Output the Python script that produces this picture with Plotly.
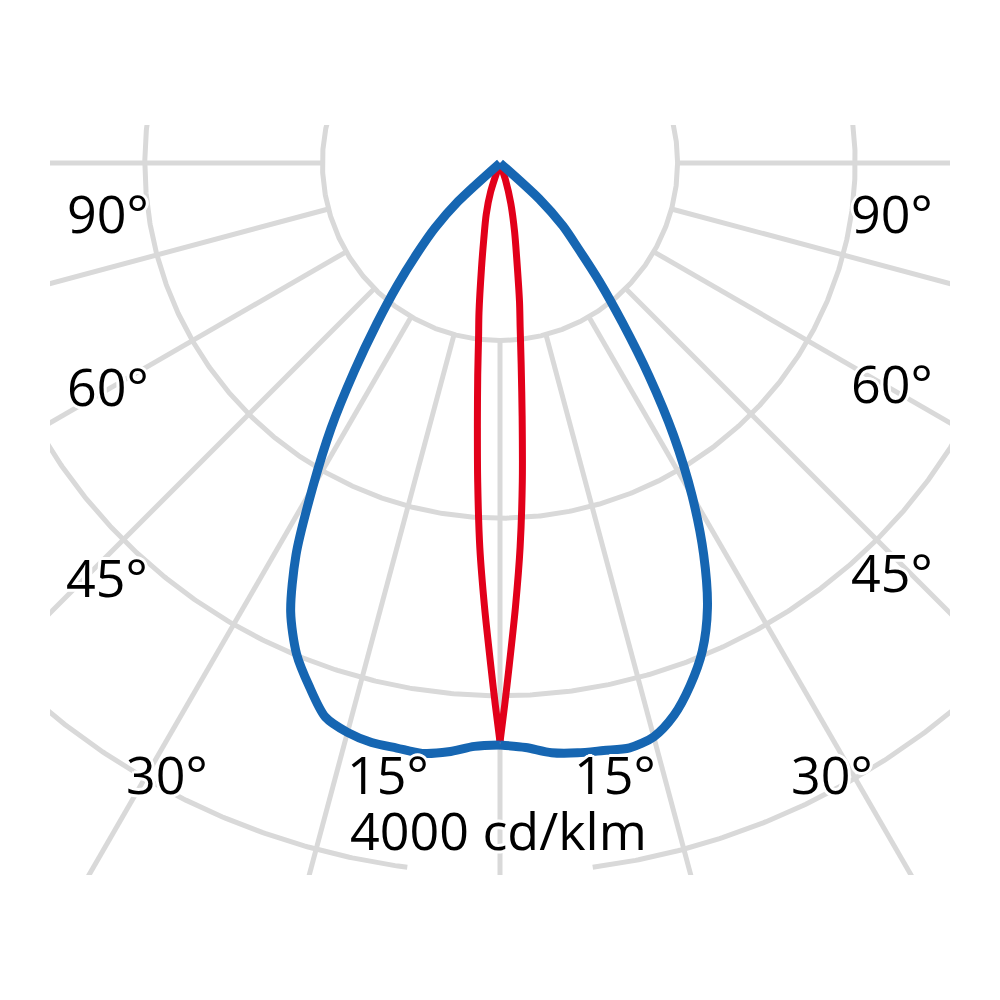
import numpy as np
import plotly.graph_objects as go

# ---------------- data (cd/klm, gamma in degrees from nadir) ----------------
ring_values = [1000, 2000, 3000, 4000]
spoke_angles = [-90, -75, -60, -45, -30, -15, 0, 15, 30, 45, 60, 75, 90]
label_texts = ["90°", "60°", "45°", "30°", "15°", "15°", "30°", "45°", "60°", "90°"]
scale_label = "4000 cd/klm"

# blue curve (C0-C180 plane)
blue_gamma = [-50, -47.5, -45, -42.5, -40, -37.5, -35, -32.5, -30, -27.5, -25, -22.5, -20, -17.5,
              -15, -12.5, -10, -7.5, -5, -2.5, 0, 2.5, 5, 7.5, 10, 12.5, 15, 17.5,
              20, 22.5, 25, 27.5, 30, 32.5, 35, 37.5, 40, 42.5, 45, 47.5, 50]
blue_cd = [0, 320, 520, 690, 900, 1140, 1430, 1770, 2110, 2488, 2789, 2993, 3138, 3271,
           3319, 3342, 3345, 3353, 3328, 3288, 3277, 3294, 3333, 3350, 3359, 3373, 3345, 3260,
           3131, 2976, 2764, 2483, 2163, 1820, 1460, 1130, 870, 650, 500, 300, 0]

# red curve (C90-C270 plane)
red_gamma = [-22, -18, -15, -12, -10, -8, -7, -6, -5, -4, -3, -2, -1, -0.5, 0,
             0.5, 1, 2, 3, 4, 5, 6, 7, 8, 10, 12, 15, 18, 22]
red_cd = [0, 170, 300, 440, 600, 850, 990, 1200, 1460, 1800, 2170, 2500, 2850, 3050, 3260,
          3050, 2850, 2500, 2165, 1800, 1430, 1140, 930, 790, 540, 395, 235, 100, 0]

GRID = "#d9d9d9"
BLUE = "#1666b2"
RED = "#e2001a"


def to_xy(gamma, r):
    g = np.radians(np.asarray(gamma, dtype=float))
    r = np.asarray(r, dtype=float)
    return r * np.sin(g), -r * np.cos(g)


fig = go.Figure()

# grid rings
theta = np.linspace(-180, 180, 1441)
for rv in ring_values:
    x, y = to_xy(theta, np.full_like(theta, rv))
    if rv == ring_values[-1]:
        gap = np.abs(theta) < 7.5
        x = np.where(gap, np.nan, x)
        y = np.where(gap, np.nan, y)
    fig.add_trace(go.Scatter(x=x, y=y, mode="lines", line=dict(color=GRID, width=5),
                             hoverinfo="skip", connectgaps=False))

# grid spokes
for a in spoke_angles:
    x, y = to_xy([a, a], [ring_values[0], 8000])
    fig.add_trace(go.Scatter(x=x, y=y, mode="lines", line=dict(color=GRID, width=5),
                             hoverinfo="skip"))


def add_curve(gamma, vals, color, width):
    gamma = np.asarray(gamma, dtype=float)
    vals = np.asarray(vals, dtype=float)
    for mask in (gamma <= 0, gamma >= 0):
        x, y = to_xy(gamma[mask], vals[mask])
        fig.add_trace(go.Scatter(x=x, y=y, mode="lines",
                                 line=dict(color=color, width=width, shape="spline", smoothing=0.8),
                                 hoverinfo="skip"))


add_curve(red_gamma, red_cd, RED, 7)
add_curve(blue_gamma, blue_cd, BLUE, 9)

# labels
halo = ("3px 0 0 #fff, -3px 0 0 #fff, 0 3px 0 #fff, 0 -3px 0 #fff, "
        "2px 2px 0 #fff, -2px -2px 0 #fff, 2px -2px 0 #fff, -2px 2px 0 #fff")
font = dict(family="Open Sans, Noto Sans, sans-serif", size=52, color="#000000", shadow=halo)

# plot area in page pixels (page has an 8px body margin)
X0, X1, Y0, Y1 = 50, 950, 125, 875


def paper(px, py):
    return (px - X0) / (X1 - X0), (Y1 - py) / (Y1 - Y0)


label_px = [(108, 212), (108, 385), (107, 576), (167, 773), (388, 773),
            (615, 773), (832, 773), (892, 571), (892, 382), (892, 212)]
for txt, (px, py) in zip(label_texts, label_px):
    ax, ay = paper(px, py)
    fig.add_annotation(x=ax, y=ay, xref="paper", yref="paper",
                       text=txt, showarrow=False, font=font, xanchor="center", yanchor="middle")
ax, ay = paper(498, 829)
fig.add_annotation(x=ax, y=ay, xref="paper", yref="paper",
                   text=scale_label, showarrow=False, font=font, xanchor="center", yanchor="middle")

fig.update_layout(
    width=1000, height=1000,
    margin=dict(l=X0 - 8, r=1000 - X1 + 8, t=Y0 - 8, b=1000 - Y1 + 8),
    paper_bgcolor="white", plot_bgcolor="white",
    showlegend=False,
    xaxis=dict(range=[-2534, 2534], visible=False, fixedrange=True),
    yaxis=dict(range=[-4009, 214], visible=False, fixedrange=True),
)

fig.write_html("out.html")
